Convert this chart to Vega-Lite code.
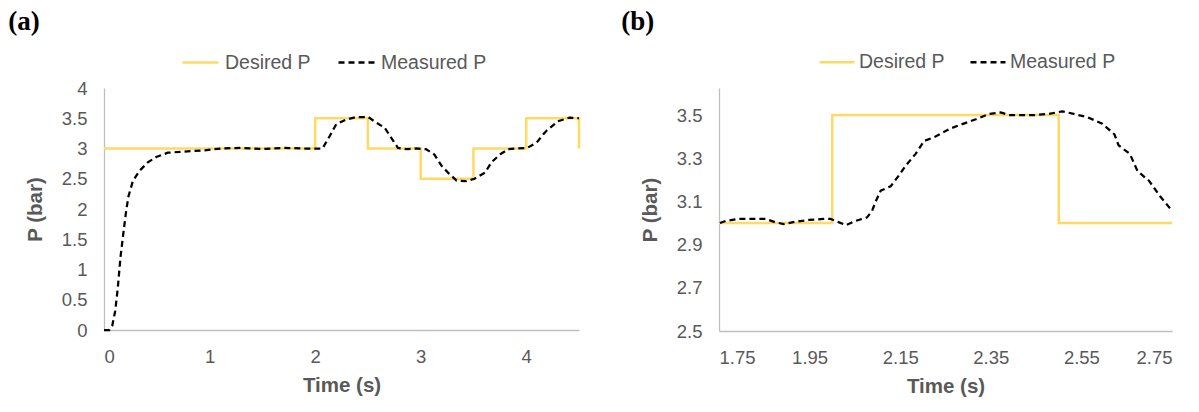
{
  "$schema": "https://vega.github.io/schema/vega-lite/v6.json",
  "background": "white",
  "padding": {"left": 8, "top": 8, "right": 0, "bottom": 0},
  "spacing": 37,
  "resolve": {"scale": {"color": "independent", "strokeDash": "independent"}, "legend": {"color": "independent", "strokeDash": "independent"}},
  "config": {
    "font": "Liberation Sans",
    "view": {"stroke": null},
    "axis": {
      "grid": false, "ticks": false, "tickSize": 0,
      "domainColor": "#bfbfbf", "domainWidth": 1.3,
      "labelColor": "#595959", "labelFontSize": 18.5, "labelFont": "Liberation Sans",
      "titleColor": "#595959", "titleFontSize": 20.5, "titleFontWeight": "bold", "titleFont": "Liberation Sans"
    },
    "axisY": {"labelPadding": 17, "titlePadding": 16},
    "axisX": {"labelPadding": 17, "titlePadding": 10},
    "title": {"font": "Liberation Serif", "fontSize": 27, "fontWeight": "bold", "color": "black", "anchor": "start", "frame": "bounds", "offset": 7}
  },
  "datasets": {
    "a": [
      {"series": "Desired P", "t": 0, "p": 3},
      {"series": "Desired P", "t": 2, "p": 3.5},
      {"series": "Desired P", "t": 2.5, "p": 3},
      {"series": "Desired P", "t": 3, "p": 2.5},
      {"series": "Desired P", "t": 3.5, "p": 3},
      {"series": "Desired P", "t": 4, "p": 3.5},
      {"series": "Desired P", "t": 4.5, "p": 3},
      {"series": "Measured P", "t": 0, "p": 0},
      {"series": "Measured P", "t": 0.05, "p": 0},
      {"series": "Measured P", "t": 0.078, "p": 0.07},
      {"series": "Measured P", "t": 0.106, "p": 0.31},
      {"series": "Measured P", "t": 0.131, "p": 0.7},
      {"series": "Measured P", "t": 0.156, "p": 1.2},
      {"series": "Measured P", "t": 0.182, "p": 1.58},
      {"series": "Measured P", "t": 0.21, "p": 1.97},
      {"series": "Measured P", "t": 0.232, "p": 2.21},
      {"series": "Measured P", "t": 0.273, "p": 2.46},
      {"series": "Measured P", "t": 0.336, "p": 2.63},
      {"series": "Measured P", "t": 0.415, "p": 2.77},
      {"series": "Measured P", "t": 0.495, "p": 2.86},
      {"series": "Measured P", "t": 0.605, "p": 2.93},
      {"series": "Measured P", "t": 0.763, "p": 2.95},
      {"series": "Measured P", "t": 0.953, "p": 2.97},
      {"series": "Measured P", "t": 1.11, "p": 3.0},
      {"series": "Measured P", "t": 1.3, "p": 3.01},
      {"series": "Measured P", "t": 1.5, "p": 2.99},
      {"series": "Measured P", "t": 1.7, "p": 3.01},
      {"series": "Measured P", "t": 1.9, "p": 3.0},
      {"series": "Measured P", "t": 2.07, "p": 3.0},
      {"series": "Measured P", "t": 2.14, "p": 3.21},
      {"series": "Measured P", "t": 2.2, "p": 3.4},
      {"series": "Measured P", "t": 2.295, "p": 3.48},
      {"series": "Measured P", "t": 2.39, "p": 3.52},
      {"series": "Measured P", "t": 2.46, "p": 3.52},
      {"series": "Measured P", "t": 2.5, "p": 3.525},
      {"series": "Measured P", "t": 2.56, "p": 3.45},
      {"series": "Measured P", "t": 2.66, "p": 3.34},
      {"series": "Measured P", "t": 2.72, "p": 3.18},
      {"series": "Measured P", "t": 2.785, "p": 3.01},
      {"series": "Measured P", "t": 2.865, "p": 2.99},
      {"series": "Measured P", "t": 2.96, "p": 3.0},
      {"series": "Measured P", "t": 3.05, "p": 2.99},
      {"series": "Measured P", "t": 3.13, "p": 2.9},
      {"series": "Measured P", "t": 3.2, "p": 2.71},
      {"series": "Measured P", "t": 3.26, "p": 2.6},
      {"series": "Measured P", "t": 3.34, "p": 2.47},
      {"series": "Measured P", "t": 3.43, "p": 2.46},
      {"series": "Measured P", "t": 3.51, "p": 2.5},
      {"series": "Measured P", "t": 3.61, "p": 2.6},
      {"series": "Measured P", "t": 3.67, "p": 2.77},
      {"series": "Measured P", "t": 3.75, "p": 2.9},
      {"series": "Measured P", "t": 3.83, "p": 2.99},
      {"series": "Measured P", "t": 3.9, "p": 3.0},
      {"series": "Measured P", "t": 4.01, "p": 3.01},
      {"series": "Measured P", "t": 4.1, "p": 3.1},
      {"series": "Measured P", "t": 4.16, "p": 3.23},
      {"series": "Measured P", "t": 4.19, "p": 3.29},
      {"series": "Measured P", "t": 4.3, "p": 3.45},
      {"series": "Measured P", "t": 4.41, "p": 3.51},
      {"series": "Measured P", "t": 4.5, "p": 3.5}
    ],
    "b": [
      {"series": "Desired P", "t": 1.75, "p": 3},
      {"series": "Desired P", "t": 2.0, "p": 3.5},
      {"series": "Desired P", "t": 2.5, "p": 3},
      {"series": "Desired P", "t": 2.75, "p": 3},
      {"series": "Measured P", "t": 1.752, "p": 3.0},
      {"series": "Measured P", "t": 1.765, "p": 3.01},
      {"series": "Measured P", "t": 1.794, "p": 3.019},
      {"series": "Measured P", "t": 1.824, "p": 3.019},
      {"series": "Measured P", "t": 1.853, "p": 3.019},
      {"series": "Measured P", "t": 1.875, "p": 3.003},
      {"series": "Measured P", "t": 1.893, "p": 2.995},
      {"series": "Measured P", "t": 1.919, "p": 3.006},
      {"series": "Measured P", "t": 1.948, "p": 3.014},
      {"series": "Measured P", "t": 1.981, "p": 3.019},
      {"series": "Measured P", "t": 1.996, "p": 3.019},
      {"series": "Measured P", "t": 2.015, "p": 3.003},
      {"series": "Measured P", "t": 2.03, "p": 2.99},
      {"series": "Measured P", "t": 2.052, "p": 3.01},
      {"series": "Measured P", "t": 2.077, "p": 3.026},
      {"series": "Measured P", "t": 2.088, "p": 3.057},
      {"series": "Measured P", "t": 2.096, "p": 3.1},
      {"series": "Measured P", "t": 2.107, "p": 3.15},
      {"series": "Measured P", "t": 2.129, "p": 3.17},
      {"series": "Measured P", "t": 2.147, "p": 3.22},
      {"series": "Measured P", "t": 2.162, "p": 3.265},
      {"series": "Measured P", "t": 2.184, "p": 3.32},
      {"series": "Measured P", "t": 2.203, "p": 3.38},
      {"series": "Measured P", "t": 2.228, "p": 3.4},
      {"series": "Measured P", "t": 2.258, "p": 3.435},
      {"series": "Measured P", "t": 2.287, "p": 3.458},
      {"series": "Measured P", "t": 2.317, "p": 3.48},
      {"series": "Measured P", "t": 2.346, "p": 3.505},
      {"series": "Measured P", "t": 2.372, "p": 3.512},
      {"series": "Measured P", "t": 2.39, "p": 3.5},
      {"series": "Measured P", "t": 2.419, "p": 3.5},
      {"series": "Measured P", "t": 2.449, "p": 3.5},
      {"series": "Measured P", "t": 2.478, "p": 3.505},
      {"series": "Measured P", "t": 2.508, "p": 3.517},
      {"series": "Measured P", "t": 2.533, "p": 3.505},
      {"series": "Measured P", "t": 2.563, "p": 3.49},
      {"series": "Measured P", "t": 2.596, "p": 3.46},
      {"series": "Measured P", "t": 2.623, "p": 3.41},
      {"series": "Measured P", "t": 2.632, "p": 3.36},
      {"series": "Measured P", "t": 2.657, "p": 3.32},
      {"series": "Measured P", "t": 2.674, "p": 3.24},
      {"series": "Measured P", "t": 2.699, "p": 3.196},
      {"series": "Measured P", "t": 2.725, "p": 3.12},
      {"series": "Measured P", "t": 2.75, "p": 3.057}
    ]
  },
  "hconcat": [
    {
      "width": 475, "height": 242,
      "title": {"text": "(a)", "dx": -17},
      "data": {"name": "a"},
      "encoding": {
        "x": {"field": "t", "type": "quantitative", "scale": {"domain": [0, 4.5], "nice": false, "zero": false}, "axis": {"values": [0, 1, 2, 3, 4], "title": "Time (s)"}},
        "y": {"field": "p", "type": "quantitative", "scale": {"domain": [0, 4], "nice": false}, "axis": {"values": [0, 0.5, 1, 1.5, 2, 2.5, 3, 3.5, 4], "format": "~g", "title": "P (bar)"}},
        "color": {"field": "series", "type": "nominal", "scale": {"domain": ["Desired P", "Measured P"], "range": ["#FFD966", "#000000"]},
          "legend": {"orient": "none", "legendX": 77, "legendY": -45, "direction": "horizontal", "title": null, "symbolType": "stroke", "symbolSize": 1296, "symbolStrokeWidth": 2.5, "labelOffset": 5, "columnPadding": 22, "labelFontSize": 19.5, "labelColor": "#595959"}},
        "strokeDash": {"field": "series", "type": "nominal", "scale": {"domain": ["Desired P", "Measured P"], "range": [[1, 0], [6, 4]]},
          "legend": {"orient": "none", "legendX": 77, "legendY": -45, "direction": "horizontal", "title": null, "symbolType": "stroke", "symbolSize": 1296, "symbolStrokeWidth": 2.5, "labelOffset": 5, "columnPadding": 22, "labelFontSize": 19.5, "labelColor": "#595959"}}
      },
      "layer": [
        {"transform": [{"filter": "datum.series === 'Desired P'"}], "mark": {"type": "line", "interpolate": "step-after", "strokeWidth": 2.5}},
        {"transform": [{"filter": "datum.series === 'Measured P'"}], "mark": {"type": "line", "strokeWidth": 2.25}}
      ]
    },
    {
      "width": 453, "height": 243,
      "title": {"text": "(b)", "dx": -19},
      "data": {"name": "b"},
      "encoding": {
        "x": {"field": "t", "type": "quantitative", "scale": {"domain": [1.75, 2.75], "nice": false, "zero": false}, "axis": {"values": [1.75, 1.95, 2.15, 2.35, 2.55, 2.75], "format": ".2f", "title": "Time (s)"}},
        "y": {"field": "p", "type": "quantitative", "scale": {"domain": [2.5, 3.625], "nice": false, "zero": false}, "axis": {"values": [2.5, 2.7, 2.9, 3.1, 3.3, 3.5], "format": ".1f", "title": "P (bar)"}},
        "color": {"field": "series", "type": "nominal", "scale": {"domain": ["Desired P", "Measured P"], "range": ["#FFD966", "#000000"]},
          "legend": {"orient": "none", "legendX": 99, "legendY": -45, "direction": "horizontal", "title": null, "symbolType": "stroke", "symbolSize": 1225, "symbolStrokeWidth": 2.5, "labelOffset": 3, "columnPadding": 20, "labelFontSize": 19.5, "labelColor": "#595959"}},
        "strokeDash": {"field": "series", "type": "nominal", "scale": {"domain": ["Desired P", "Measured P"], "range": [[1, 0], [6, 4]]},
          "legend": {"orient": "none", "legendX": 99, "legendY": -45, "direction": "horizontal", "title": null, "symbolType": "stroke", "symbolSize": 1225, "symbolStrokeWidth": 2.5, "labelOffset": 3, "columnPadding": 20, "labelFontSize": 19.5, "labelColor": "#595959"}}
      },
      "layer": [
        {"transform": [{"filter": "datum.series === 'Desired P'"}], "mark": {"type": "line", "interpolate": "step-after", "strokeWidth": 2.5}},
        {"transform": [{"filter": "datum.series === 'Measured P'"}], "mark": {"type": "line", "strokeWidth": 2.25}}
      ]
    }
  ]
}
